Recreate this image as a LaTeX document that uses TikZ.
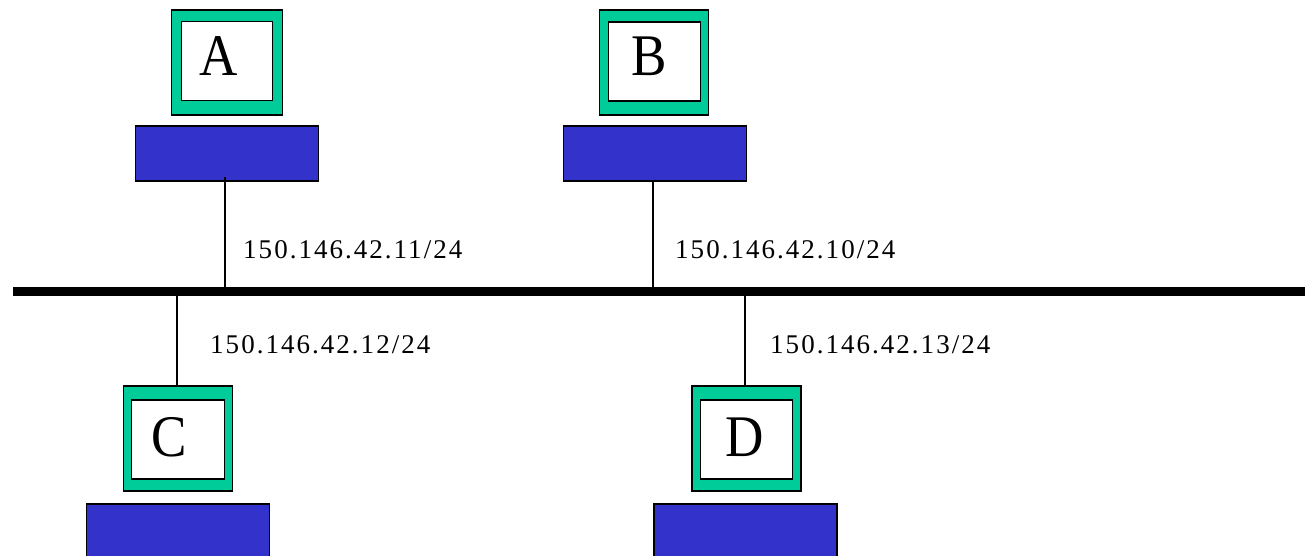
\documentclass[tikz,border=0pt]{standalone}
\usepackage{fontspec}
\usepackage{graphicx}
\setmainfont{Liberation Serif}
\newfontfamily\addrfont[LetterSpace=7.5]{Liberation Serif}
\definecolor{screengreen}{RGB}{0,204,153}
\definecolor{baseblue}{RGB}{51,51,204}
\newcommand{\bigletter}[1]{\scalebox{0.9}[1]{\fontsize{59}{59}\selectfont #1}}
\tikzset{
 screen/.style={draw=black,line width=1.5pt,fill=screengreen,minimum width=109pt,minimum height=105pt,inner sep=0pt},
 glass/.style={draw=black,line width=1.5pt,fill=white,minimum width=92pt,minimum height=79pt,inner sep=0pt},
 letter/.style={inner sep=0pt},
 base/.style={draw=black,line width=1.5pt,fill=baseblue,minimum width=183pt,minimum height=55pt,inner sep=0pt},
 link/.style={draw=black,line width=1.5pt},
 bus/.style={draw=black,line width=9pt},
 addr/.style={anchor=west,inner sep=0pt,font=\addrfont\fontsize{27}{27}\selectfont}
}
\begin{document}
\begin{tikzpicture}[x=1pt,y=-1pt]
\useasboundingbox (0,0) rectangle (1305,556);
\coordinate (busL) at (13,291.3);
\coordinate (busR) at (1305,291.3);
\coordinate (ja) at (225,291.3);
\coordinate (jb) at (653,291.3);
\coordinate (jc) at (177,291.3);
\coordinate (jd) at (745,291.3);
\coordinate (ea) at (225,177);
\draw[bus] (busL) -- (busR);
\node[screen,minimum width=111pt] (sa) at (227,62.5) {};
\node[glass,minimum width=91pt] (ga) at (227,61) {};
\node[letter] (ta) at (218.5,56) {\bigletter{A}};
\node[base] (ba) at (227,153.5) {};
\node[screen] (sb) at (654.2,62.5) {};
\node[glass] (gb) at (654.3,61.5) {};
\node[letter] (tb) at (649,56) {\bigletter{B}};
\node[base] (bb) at (655,153.5) {};
\node[screen] (sc) at (178,438.5) {};
\node[glass,minimum width=93pt] (gc) at (178,439.5) {};
\node[letter] (tc) at (169,437) {\bigletter{C}};
\node[base] (bc) at (178,531.5) {};
\node[screen] (sd) at (746.3,438.5) {};
\node[glass] (gd) at (746.3,439.5) {};
\node[letter] (td) at (745,437) {\bigletter{D}};
\node[base] (bd) at (745.5,531.5) {};
\draw[link] (ja) -- (ea);
\draw[link] (jb) -- (bb.south -| jb);
\draw[link] (jc) -- (sc.north -| jc);
\draw[link] (jd) -- (sd.north -| jd);
\node[addr] (la) at (243,250) {150.146.42.11/24};
\node[addr] (lb) at (675,250) {150.146.42.10/24};
\node[addr] (lc) at (210,345) {150.146.42.12/24};
\node[addr] (ld) at (770,345) {150.146.42.13/24};
\end{tikzpicture}
\end{document}
